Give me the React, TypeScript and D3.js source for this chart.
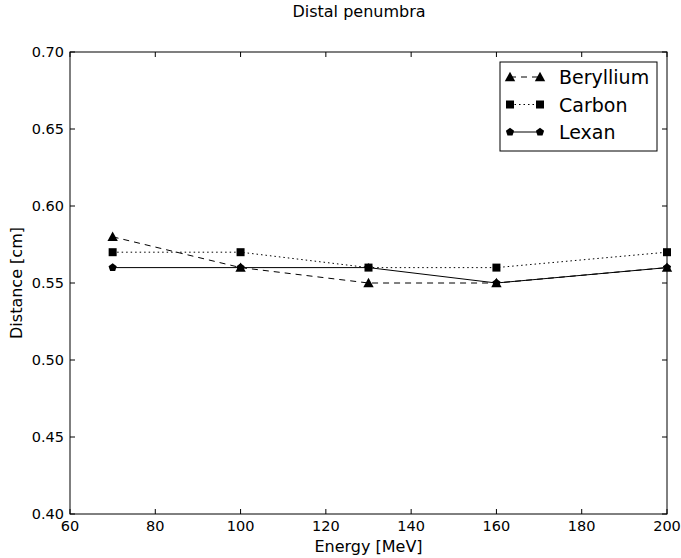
import React from "react";
import * as d3 from "d3";

const energies = [70, 100, 130, 160, 200];
const beryllium = [0.58, 0.56, 0.55, 0.55, 0.56];
const carbon = [0.57, 0.57, 0.56, 0.56, 0.57];
const lexan = [0.56, 0.56, 0.56, 0.55, 0.56];
const xTicks = [60, 80, 100, 120, 140, 160, 180, 200];
const yTicks = [0.4, 0.45, 0.5, 0.55, 0.6, 0.65, 0.7];
const seriesNames = ["Beryllium", "Carbon", "Lexan"];

const W = 681, H = 558;
const L = 70, R = 667, T = 52, B = 514;
const FONT = "DejaVu Sans, sans-serif";

function marker(kind: string, x: number, y: number, key: string) {
  if (kind === "tri") {
    const s = 5.2;
    return <path key={key} d={`M${x},${y - s}L${x + s},${y + s * 0.8}L${x - s},${y + s * 0.8}Z`} fill="black" />;
  }
  if (kind === "sq") {
    const s = 4;
    return <rect key={key} x={x - s} y={y - s} width={2 * s} height={2 * s} fill="black" />;
  }
  const r = 4.3;
  const pts = d3.range(5).map((i) => {
    const a = -Math.PI / 2 + (i * 2 * Math.PI) / 5;
    return [x + r * Math.cos(a), y + r * Math.sin(a)];
  });
  return <path key={key} d={"M" + pts.map((p) => p.join(",")).join("L") + "Z"} fill="black" />;
}

export default function App() {
  const x = d3.scaleLinear().domain([60, 200]).range([L, R]);
  const y = d3.scaleLinear().domain([0.4, 0.7]).range([B, T]);
  const line = d3.line<number>().x((_, i) => x(energies[i])).y((d) => y(d));
  const series = [
    { name: seriesNames[0], data: beryllium, dash: "6,5", kind: "tri" },
    { name: seriesNames[1], data: carbon, dash: "1.5,3", kind: "sq" },
    { name: seriesNames[2], data: lexan, dash: "", kind: "pent" },
  ];
  const tl = 5;
  return (
    <div style={{ position: "absolute", left: 0, top: 0 }}>
      <svg width={W} height={H} style={{ display: "block", background: "white" }} fontFamily={FONT}>
        <text x={359} y={17} textAnchor="middle" fontSize={16}>Distal penumbra</text>
        {series.map((s) => (
          <g key={s.name}>
            <path d={line(s.data) || ""} fill="none" stroke="black" strokeWidth={1} strokeDasharray={s.dash || undefined} />
            {s.data.map((v, i) => marker(s.kind, x(energies[i]), y(v), s.name + i))}
          </g>
        ))}
        <rect x={L} y={T} width={R - L} height={B - T} fill="none" stroke="black" strokeWidth={1} />
        {xTicks.map((t) => (
          <g key={"x" + t}>
            <line x1={x(t)} x2={x(t)} y1={B} y2={B - tl} stroke="black" />
            <line x1={x(t)} x2={x(t)} y1={T} y2={T + tl} stroke="black" />
            <text x={x(t)} y={B + 17} textAnchor="middle" fontSize={14.5}>{t}</text>
          </g>
        ))}
        {yTicks.map((t) => (
          <g key={"y" + t}>
            <line x1={L} x2={L + tl} y1={y(t)} y2={y(t)} stroke="black" />
            <line x1={R} x2={R - tl} y1={y(t)} y2={y(t)} stroke="black" />
            <text x={L - 6} y={y(t) + 5} textAnchor="end" fontSize={14.5}>{t.toFixed(2)}</text>
          </g>
        ))}
        <text x={(L + R) / 2} y={552} textAnchor="middle" fontSize={16}>Energy [MeV]</text>
        <text transform={`translate(22,${(T + B) / 2}) rotate(-90)`} textAnchor="middle" fontSize={16}>Distance [cm]</text>
        <g>
          <rect x={500} y={62} width={157} height={89} fill="white" stroke="black" strokeWidth={1} />
          {series.map((s, i) => {
            const yy = 77 + i * 27.5;
            return (
              <g key={"leg" + s.name}>
                <line x1={510} x2={540} y1={yy} y2={yy} stroke="black" strokeDasharray={s.dash || undefined} />
                {marker(s.kind, 510, yy, "lm0" + i)}
                {marker(s.kind, 540, yy, "lm1" + i)}
                <text x={559} y={yy + 7} fontSize={19}>{s.name}</text>
              </g>
            );
          })}
        </g>
      </svg>
    </div>
  );
}
